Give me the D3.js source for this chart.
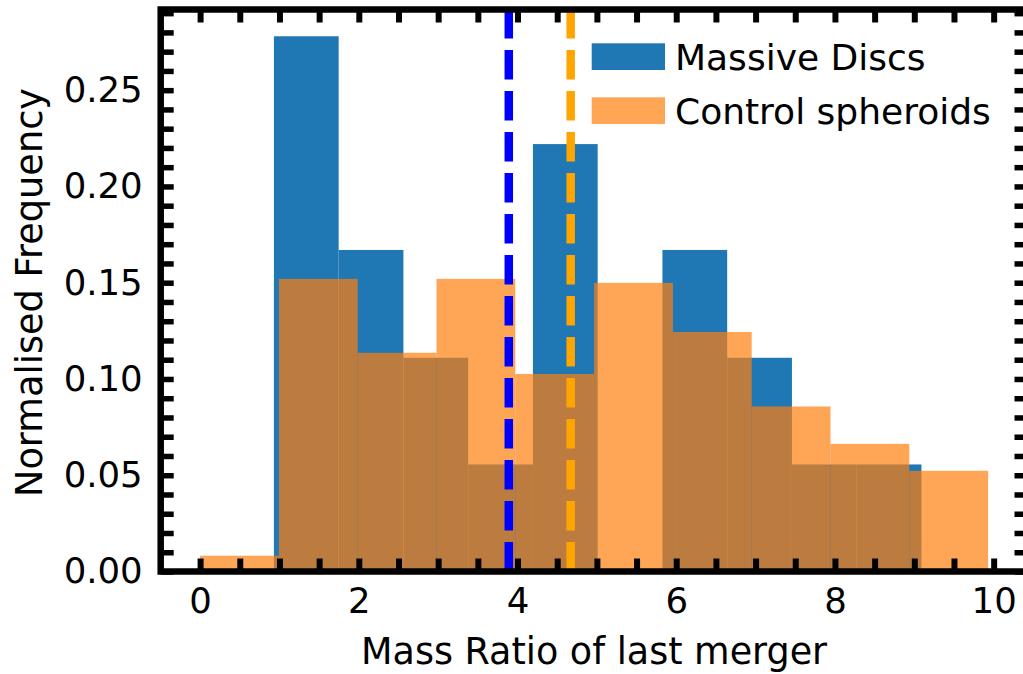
<!DOCTYPE html>
<html>
<head>
<meta charset="utf-8">
<script src="https://cdn.jsdelivr.net/npm/d3@7"></script>
<style>
  body { margin: 0; background: #fff; }
  svg { display: block; }
  text { font-family: "DejaVu Sans", sans-serif; fill: #000; }
</style>
</head>
<body>
<svg id="chart" width="1023" height="674"></svg>
<script>
// Histogram bin edges and normalised (density) heights for each sample
const discEdges = [0.93, 1.746, 2.562, 3.378, 4.194, 5.01, 5.826, 6.642, 7.458, 8.274, 9.09];
const discDensity = [0.278, 0.167, 0.111, 0.0556, 0.222, 0, 0.167, 0.111, 0.0556, 0.0556];
const spheroidEdges = [0, 0.993, 1.986, 2.979, 3.972, 4.965, 5.958, 6.951, 7.944, 8.937, 9.93];
const spheroidDensity = [0.0082, 0.152, 0.1136, 0.152, 0.1026, 0.1499, 0.1244, 0.0857, 0.0663, 0.0523];
// Median mass ratio of each sample
const medians = [3.89, 4.67];
const seriesNames = ["Massive Discs", "Control spheroids"];
const xTickValues = [0, 2, 4, 6, 8, 10];
const yTickValues = [0, 0.05, 0.10, 0.15, 0.20, 0.25];

(function () {
  const blue = "#1f77b4", orange = "#ff7f0e";
  const lineColors = ["#0000ff", "#ffa500"];

  const svg = d3.select("#chart");
  const pLeft = 160.7, pRight = 1027.5, pTop = 9.5, pBottom = 571.5;

  // Axis limits with 5% data margins
  const lo = d3.min([...discEdges, ...spheroidEdges]);
  const hi = d3.max([...discEdges, ...spheroidEdges]);
  const pad = 0.05 * (hi - lo);
  const x = d3.scaleLinear().domain([lo - pad, hi + pad]).range([pLeft, pRight]);
  const yMax = 1.05 * d3.max([...discDensity, ...spheroidDensity]);
  const y = d3.scaleLinear().domain([0, yMax]).range([pBottom, pTop]);

  function bins(edges, heights) {
    return heights.map((h, i) => ({ x0: edges[i], x1: edges[i + 1], h }));
  }

  const plot = svg.append("g");
  plot.selectAll("rect.disc").data(bins(discEdges, discDensity)).join("rect")
    .attr("class", "disc")
    .attr("x", d => x(d.x0)).attr("width", d => x(d.x1) - x(d.x0))
    .attr("y", d => y(d.h)).attr("height", d => y(0) - y(d.h))
    .attr("fill", blue);

  plot.selectAll("rect.sph").data(bins(spheroidEdges, spheroidDensity)).join("rect")
    .attr("class", "sph")
    .attr("x", d => x(d.x0)).attr("width", d => x(d.x1) - x(d.x0))
    .attr("y", d => y(d.h)).attr("height", d => y(0) - y(d.h))
    .attr("fill", orange).attr("fill-opacity", 0.7);

  // Dashed median lines, dash pattern starting at the bottom
  plot.selectAll("line.median").data(medians).join("line")
    .attr("class", "median")
    .attr("x1", d => x(d)).attr("x2", d => x(d))
    .attr("y1", y(0)).attr("y2", y(yMax))
    .attr("stroke", (d, i) => lineColors[i])
    .attr("stroke-width", 8.5)
    .attr("stroke-dasharray", "29.5,11.5");

  // Inward ticks on all four sides
  const xMinor = d3.range(0, 10.001, 0.5);
  const yMinor = d3.range(0, 0.2901, 0.01);
  const tickLen = 13;

  function styleTicks(g, w) {
    g.select(".domain").remove();
    g.selectAll(".tick line").attr("stroke", "#000").attr("stroke-width", w);
  }

  svg.append("g").attr("transform", `translate(0,${pBottom})`)
    .call(d3.axisBottom(x).tickValues(xMinor).tickSize(-tickLen).tickFormat(""))
    .call(g => styleTicks(g, 6));
  svg.append("g").attr("transform", `translate(0,${pTop})`)
    .call(d3.axisTop(x).tickValues(xMinor).tickSize(-tickLen).tickFormat(""))
    .call(g => styleTicks(g, 6));
  svg.append("g").attr("transform", `translate(${pLeft},0)`)
    .call(d3.axisLeft(y).tickValues(yMinor).tickSize(-tickLen).tickFormat(""))
    .call(g => styleTicks(g, 5.5));
  svg.append("g").attr("transform", `translate(${pRight},0)`)
    .call(d3.axisRight(y).tickValues(yMinor).tickSize(-tickLen).tickFormat(""))
    .call(g => styleTicks(g, 5.5));

  // Tick labels
  const xLab = svg.append("g").attr("transform", `translate(0,${pBottom})`)
    .call(d3.axisBottom(x).tickValues(xTickValues).tickSize(0).tickPadding(16.5).tickFormat(d3.format("d")));
  xLab.select(".domain").remove();
  xLab.selectAll("text").attr("font-size", 35.5).attr("font-family", "DejaVu Sans");

  const yLab = svg.append("g").attr("transform", `translate(${pLeft},0)`)
    .call(d3.axisLeft(y).tickValues(yTickValues).tickSize(0).tickPadding(18).tickFormat(d3.format(".2f")));
  yLab.select(".domain").remove();
  yLab.selectAll("text").attr("font-size", 35.5).attr("font-family", "DejaVu Sans");

  // Frame
  svg.append("rect")
    .attr("x", pLeft).attr("y", pTop)
    .attr("width", pRight - pLeft).attr("height", pBottom - pTop)
    .attr("fill", "none").attr("stroke", "#000").attr("stroke-width", 6.5);

  // Axis titles
  svg.append("text")
    .attr("x", (pLeft + pRight) / 2).attr("y", 664)
    .attr("text-anchor", "middle").attr("font-size", 36.5)
    .text("Mass Ratio of last merger");
  svg.append("text")
    .attr("transform", `translate(42,${(pTop + pBottom) / 2 + 2}) rotate(-90)`)
    .attr("text-anchor", "middle").attr("font-size", 36.7)
    .text("Normalised Frequency");

  // Legend
  const legend = svg.append("g");
  const legendFill = [{ c: blue, o: 1 }, { c: orange, o: 0.7 }];
  seriesNames.forEach((name, i) => {
    const gy = 43.3 + i * 54;
    legend.append("rect")
      .attr("x", 591.7).attr("y", gy).attr("width", 73.3).attr("height", 26.7)
      .attr("fill", legendFill[i].c).attr("fill-opacity", legendFill[i].o);
    legend.append("text")
      .attr("x", 675).attr("y", gy + 26.5)
      .attr("font-size", 36)
      .text(name);
  });
})();
</script>
</body>
</html>
